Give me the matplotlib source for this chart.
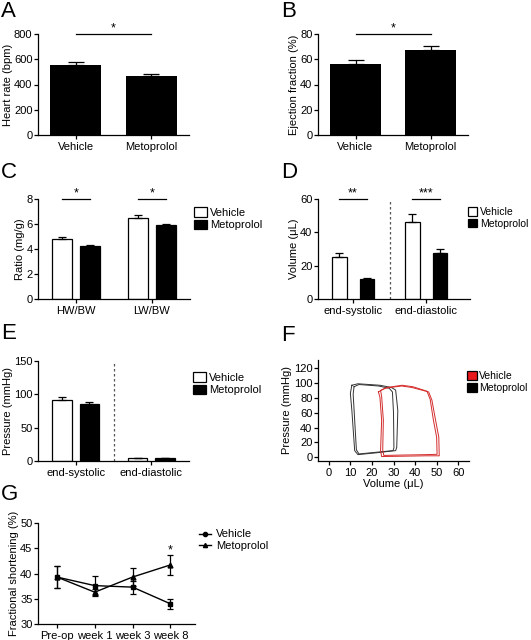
import numpy as np
import matplotlib
matplotlib.use("Agg")
import matplotlib.pyplot as plt
from matplotlib.patches import Patch
from matplotlib.lines import Line2D

plt.rcParams['font.family'] = ['Liberation Sans', 'DejaVu Sans']
plt.rcParams['font.size'] = 8.0
plt.rcParams['axes.linewidth'] = 0.9
plt.rcParams['xtick.major.width'] = 0.9
plt.rcParams['ytick.major.width'] = 0.9
plt.rcParams['xtick.major.size'] = 3
plt.rcParams['ytick.major.size'] = 3
plt.rcParams['xtick.major.pad'] = 2
plt.rcParams['ytick.major.pad'] = 1.0

# ---- data ----
groups = ['Vehicle', 'Metoprolol']
hr_mean = [555, 465]
hr_err = [25, 17]
ef_mean = [56.5, 67]
ef_err = [2.8, 3.5]

ratio_cats = ['HW/BW', 'LW/BW']
ratio_veh = [4.8, 6.45]
ratio_veh_err = [0.15, 0.25]
ratio_met = [4.25, 5.9]
ratio_met_err = [0.06, 0.1]

phase_cats = ['end-systolic', 'end-diastolic']
vol_veh = [25.0, 46.5]
vol_veh_err = [2.5, 4.3]
vol_met = [11.8, 27.5]
vol_met_err = [1.0, 2.5]

pres_veh = [92, 4]
pres_veh_err = [4, 1]
pres_met = [86, 4]
pres_met_err = [3, 0.5]

# pressure-volume loops (two beats each)
veh_v1 = [23.0, 26.0, 33.8, 38.5, 46.3, 47.8, 49.5, 51.0, 51.2, 45.0, 35.0, 24.5, 24.0, 24.5, 23.7, 23.0]
veh_p1 = [88, 93, 96, 94, 88, 77, 50, 27, 2, 2, 1.5, 1, 9, 50, 81, 88]
veh_v2 = [24.0, 27.0, 34.0, 39.0, 45.5, 47.0, 48.5, 50.0, 50.2, 44.0, 34.0, 25.5, 25.0, 25.3, 24.5, 24.0]
veh_p2 = [90, 94, 97, 95, 89, 78, 50, 27, 4, 3.5, 3, 2.5, 10, 50, 82, 90]
met_v1 = [10.7, 13.5, 23.7, 29.0, 31.0, 32.0, 31.5, 31.0, 22.0, 13.5, 12.0, 10.7, 10.0, 10.7]
met_p1 = [97, 99, 97, 94, 90.5, 63, 13.5, 9, 6, 3.6, 9, 63, 86, 97]
met_v2 = [11.7, 14.0, 23.0, 28.0, 29.5, 30.0, 30.2, 29.8, 21.0, 14.0, 12.8, 11.8, 11.3, 11.7]
met_p2 = [95, 98, 96, 93, 88, 60, 13, 9, 6.5, 4.5, 10, 60, 85, 95]

weeks = ['Pre-op', 'week 1', 'week 3', 'week 8']
fs_veh = [39.3, 37.6, 37.3, 34.0]
fs_veh_err = [2.2, 2.0, 1.3, 1.0]
fs_met = [39.3, 36.3, 39.3, 41.7]
fs_met_err = [2.2, 0.6, 1.7, 2.0]

W, H = 531, 640
fig = plt.figure(figsize=(W / 100, H / 100), dpi=100)


def add_ax(left, right, top, bottom):
    ax = fig.add_axes([left / W, 1 - bottom / H, (right - left) / W, (bottom - top) / H])
    ax.spines['top'].set_visible(False)
    ax.spines['right'].set_visible(False)
    return ax


def letter(x, y, s):
    fig.text(x / W, 1 - y / H, s, fontsize=16, va='top', ha='left')


def sig(ax, x1, x2, y, s):
    ax.plot([x1, x2], [y, y], color='k', lw=0.9, clip_on=False)
    ax.text((x1 + x2) / 2, y, s, ha='center', va='bottom', fontsize=9, clip_on=False)


def bar_legend(ax, x, y, handles, fs=8.0, hl=1.1, pad=0.3):
    ax.legend(handles=handles, loc='upper left', bbox_to_anchor=(x, y), frameon=False,
              handlelength=hl, handleheight=0.9, handletextpad=pad, borderaxespad=0,
              labelspacing=0.15, fontsize=fs)


pair_handles = [Patch(facecolor='white', edgecolor='k', lw=0.9, label='Vehicle'),
                Patch(facecolor='black', edgecolor='k', lw=0.9, label='Metoprolol')]

# ---- A ----
ax = add_ax(38, 189, 34, 135)
x = np.arange(len(groups))
ax.bar(x, hr_mean, width=0.68, color='k')
ax.errorbar(x, hr_mean, yerr=[[0, 0], hr_err], fmt='none', ecolor='k', elinewidth=0.9, capsize=6, capthick=0.9)
ax.set_xlim(-0.5, 1.5)
ax.set_ylim(0, 800)
ax.set_yticks([0, 200, 400, 600, 800])
ax.set_xticks(x)
ax.set_xticklabels(groups)
ax.set_ylabel('Heart rate (bpm)', labelpad=1)
sig(ax, 0, 1, 800, '*')
letter(1, 1, 'A')

# ---- B ----
ax = add_ax(318, 468, 34, 135)
ax.bar(x, ef_mean, width=0.68, color='k')
ax.errorbar(x, ef_mean, yerr=[[0, 0], ef_err], fmt='none', ecolor='k', elinewidth=0.9, capsize=6, capthick=0.9)
ax.set_xlim(-0.5, 1.5)
ax.set_ylim(0, 80)
ax.set_yticks([0, 20, 40, 60, 80])
ax.set_xticks(x)
ax.set_xticklabels(groups)
ax.set_ylabel('Ejection fraction (%)', labelpad=1)
sig(ax, 0, 1, 80, '*')
letter(281, 1, 'B')

# ---- C ----
ax = add_ax(38, 190, 199, 299)
x = np.arange(len(ratio_cats))
off, bw = 0.18, 0.26
ax.bar(x - off, ratio_veh, width=bw, color='white', edgecolor='k', lw=0.9)
ax.bar(x + off, ratio_met, width=bw, color='k', edgecolor='k', lw=0.9)
ax.errorbar(x - off, ratio_veh, yerr=[[0, 0], ratio_veh_err], fmt='none', ecolor='k', elinewidth=0.9, capsize=3, capthick=0.9)
ax.errorbar(x + off, ratio_met, yerr=[[0, 0], ratio_met_err], fmt='none', ecolor='k', elinewidth=0.9, capsize=3, capthick=0.9)
ax.set_xlim(-0.5, 1.5)
ax.set_ylim(0, 8)
ax.set_yticks([0, 2, 4, 6, 8])
ax.set_xticks(x)
ax.set_xticklabels(ratio_cats)
ax.set_ylabel('Ratio (mg/g)', labelpad=1)
for i in x:
    sig(ax, i - off, i + off, 8, '*')
bar_legend(ax, 1.0, 0.96, pair_handles)
letter(1, 162, 'C')

# ---- D ----
ax = add_ax(318, 470, 199, 299)
x = np.arange(len(phase_cats))
off, bw = 0.19, 0.2
ax.bar(x - off, vol_veh, width=bw, color='white', edgecolor='k', lw=0.9)
ax.bar(x + off, vol_met, width=bw, color='k', edgecolor='k', lw=0.9)
ax.errorbar(x - off, vol_veh, yerr=[[0, 0], vol_veh_err], fmt='none', ecolor='k', elinewidth=0.9, capsize=3, capthick=0.9)
ax.errorbar(x + off, vol_met, yerr=[[0, 0], vol_met_err], fmt='none', ecolor='k', elinewidth=0.9, capsize=3, capthick=0.9)
ax.axvline(0.5, color='#555555', lw=0.9, ls=(0, (2, 2)))
ax.set_xlim(-0.48, 1.6)
ax.set_ylim(0, 60)
ax.set_yticks([0, 20, 40, 60])
ax.set_xticks(x)
ax.set_xticklabels(phase_cats)
ax.set_ylabel('Volume (\u03bcL)', labelpad=1)
sig(ax, -off, off, 60, '**')
sig(ax, 1 - off, 1 + off, 60, '***')
bar_legend(ax, 0.96, 0.96, pair_handles, fs=7.5, hl=0.9, pad=0.25)
letter(281, 162, 'D')

# ---- E ----
ax = add_ax(38, 189, 361, 461)
off, bw = 0.18, 0.26
ax.bar(x - off, pres_veh, width=bw, color='white', edgecolor='k', lw=0.9)
ax.bar(x + off, pres_met, width=bw, color='k', edgecolor='k', lw=0.9)
ax.errorbar(x - off, pres_veh, yerr=[[0, 0], pres_veh_err], fmt='none', ecolor='k', elinewidth=0.9, capsize=3, capthick=0.9)
ax.errorbar(x + off, pres_met, yerr=[[0, 0], pres_met_err], fmt='none', ecolor='k', elinewidth=0.9, capsize=3, capthick=0.9)
ax.axvline(0.5, color='#555555', lw=0.9, ls=(0, (2, 2)))
ax.set_xlim(-0.5, 1.5)
ax.set_ylim(0, 150)
ax.set_yticks([0, 50, 100, 150])
ax.set_xticks(x)
ax.set_xticklabels(phase_cats)
ax.set_ylabel('Pressure (mmHg)', labelpad=1)
bar_legend(ax, 1.0, 0.93, pair_handles)
letter(1, 323, 'E')

# ---- F ----
ax = add_ax(318, 469, 360, 461)
ax.plot(met_v1, met_p1, color='#333333', lw=0.7)
ax.plot(met_v2, met_p2, color='#333333', lw=0.7)
ax.plot(veh_v1, veh_p1, color='#d42a2a', lw=0.7)
ax.plot(veh_v2, veh_p2, color='#d42a2a', lw=0.7)
ax.set_xlim(-5, 65)
ax.set_ylim(-5, 131)
ax.set_xticks(np.arange(0, 61, 10))
ax.set_yticks(np.arange(0, 121, 20))
ax.set_xlabel('Volume (\u03bcL)', labelpad=1)
ax.set_ylabel('Pressure (mmHg)', labelpad=1)
bar_legend(ax, 0.96, 0.93, [Patch(facecolor='#e8181c', edgecolor='k', lw=0.9, label='Vehicle'),
                            Patch(facecolor='black', edgecolor='k', lw=0.9, label='Metoprolol')],
           fs=7.5, hl=0.9, pad=0.25)
letter(281, 325, 'F')

# ---- G ----
ax = add_ax(38, 195, 523, 624)
x = np.arange(len(weeks))
ax.errorbar(x, fs_veh, yerr=fs_veh_err, color='k', lw=1, marker='s', ms=3.5,
            capsize=2.5, capthick=0.9, elinewidth=0.9, label='Vehicle')
ax.errorbar(x, fs_met, yerr=fs_met_err, color='k', lw=1, marker='^', ms=3.5,
            capsize=2.5, capthick=0.9, elinewidth=0.9, label='Metoprolol')
ax.text(3, fs_met[3] + fs_met_err[3] - 0.3, '*', ha='center', va='bottom', fontsize=9)
ax.set_xlim(-0.5, 3.65)
ax.set_ylim(30, 50)
ax.set_yticks([30, 35, 40, 45, 50])
ax.set_xticks(x)
ax.set_xticklabels(weeks)
ax.set_ylabel('Fractional shortening (%)', labelpad=1)
ax.legend(handles=[Line2D([], [], color='k', lw=1, marker='o', ms=3, label='Vehicle'),
                   Line2D([], [], color='k', lw=1, marker='^', ms=3, label='Metoprolol')],
          loc='upper left', bbox_to_anchor=(1.0, 0.98), frameon=False, handlelength=1.0,
          handletextpad=0.5, borderaxespad=0, labelspacing=0.1, fontsize=8.0)
letter(1, 484, 'G')

fig.savefig('out.png', dpi=100)
